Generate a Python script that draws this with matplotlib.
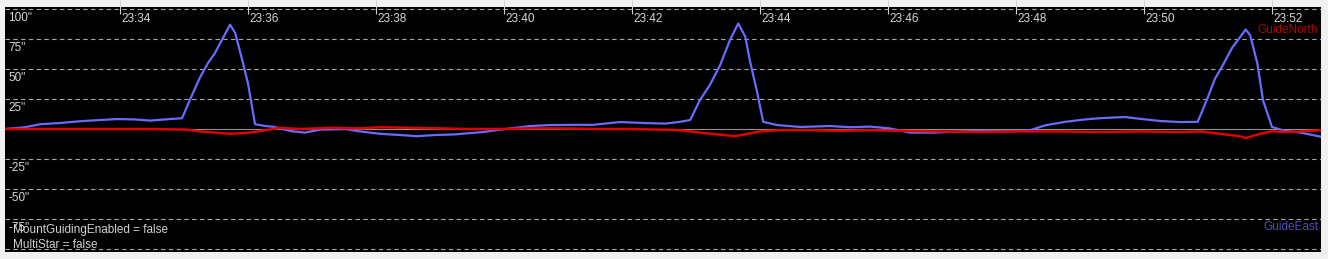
import matplotlib.pyplot as plt
import matplotlib.transforms as mtransforms

# === Donnees (minutes apres 23:00, valeurs en arcsec) ===
east_t = [32.20, 32.52, 32.75, 33.06, 33.38, 33.69, 33.95, 34.23, 34.47, 34.70,
          34.97, 35.09, 35.25, 35.375, 35.48, 35.59, 35.72, 35.80, 35.91, 36.00,
          36.11, 36.27, 36.42, 36.66, 36.89, 37.13, 37.52, 37.75, 38.06, 38.38,
          38.64, 38.92, 39.23, 39.67, 40.02, 40.41, 40.72, 41.11, 41.39, 41.81,
          42.20, 42.52, 42.75, 42.91, 43.06, 43.22, 43.375, 43.53, 43.66, 43.77,
          43.84, 43.95, 44.05, 44.27, 44.63, 45.09, 45.41, 45.72, 46.03, 46.34,
          46.73, 47.13, 47.52, 47.91, 48.22, 48.45, 48.77, 49.08, 49.31, 49.70,
          49.94, 50.25, 50.56, 50.84, 50.98, 51.11, 51.23, 51.375, 51.59, 51.66,
          51.77, 51.86, 52.00, 52.20, 52.44, 52.59, 52.77]
east_v = [0, 1.5, 4, 5, 6.5, 7.5, 8.3, 8, 7, 8,
          9, 24, 43, 55, 63, 74, 87, 80, 57.5, 38,
          4, 2.5, 1.7, -1.7, -3, -0.5, 0, -2, -4, -5,
          -6, -5, -4.5, -2.5, 0, 2.5, 3.3, 3.5, 3.5, 5.8,
          5, 4.5, 6, 7.5, 24, 37, 53, 74, 88, 77,
          57.5, 32, 6, 3.3, 1.7, 2.5, 1.5, 2, 0.5, -3,
          -3, -2, -1.5, -2, -1, 3, 6, 8, 9, 10,
          8.5, 6.7, 5.8, 6, 24, 42, 53, 67.5, 83, 78,
          55, 24, 1.7, -1.5, -3, -4.5, -6.5]

north_t = [32.20, 34.47, 35.02, 35.25, 35.72, 36.03, 36.27, 36.50, 36.81, 37.28,
           37.75, 38.06, 38.53, 39.00, 39.47, 39.94, 40.41, 40.88, 41.50, 41.97,
           42.44, 42.75, 43.06, 43.61, 44.00, 44.31, 44.78, 45.25, 45.72, 46.19,
           46.81, 47.44, 48.06, 48.69, 49.31, 49.94, 50.56, 50.88, 51.19, 51.50,
           51.59, 51.81, 52.00, 52.28, 52.59, 52.77]
north_v = [0, 0, -0.5, -2, -4, -3, -1, 1, 0, 1,
           0.5, 1.5, 1, 0.5, 0, 0, 0.5, 0.5, 0, 0,
           -0.5, -1, -3, -6, -2, -1, -1, -1.5, -1, -1.5,
           -2, -2.5, -2, -2, -2.5, -2, -2.5, -2, -4, -6,
           -7.5, -4, -2, -2.5, -1.5, -1]

x_ticks = [34, 36, 38, 40, 42, 44, 46, 48, 50, 52]
x_labels = ["23:34", "23:36", "23:38", "23:40", "23:42", "23:44", "23:46", "23:48", "23:50", "23:52"]
y_grid = [100, 75, 50, 25, -25, -50, -75, -100]
y_labels = ['100"', '75"', '50"', '25"', '-25"', '-50"', '-75"']

plt.rcParams['font.family'] = ['Liberation Sans', 'DejaVu Sans']

fig = plt.figure(figsize=(13.28, 2.59), dpi=100, facecolor="#f0f0f0")
ax = fig.add_axes([5 / 1328, 7 / 259, 1316 / 1328, 245 / 259])
ax.set_facecolor("black")
for s in ax.spines.values():
    s.set_visible(False)

ax.set_xlim(32.203, 52.766)
ax.set_ylim(-102.5, 101.7)

# grille horizontale
for g in y_grid:
    ax.axhline(g, color="#a8a8a8", lw=0.8, ls=(0, (4, 3)), zorder=1)
ax.axhline(0, color="#909090", lw=0.8, zorder=1)

# courbes
ax.plot(east_t, east_v, color="#6a6aff", lw=1.6, zorder=3)
ax.plot(north_t, north_v, color="#e00000", lw=1.8, zorder=4)

# axe du temps (en haut, a l'interieur)
ax.set_xticks(x_ticks)
ax.set_xticklabels([])
ax.set_yticks([])
ax.tick_params(axis="x", bottom=False, top=True, direction="inout", length=10,
               color="#d0d0d0", width=0.8)
trans_x = mtransforms.blended_transform_factory(ax.transData, ax.transAxes)
for t, lab in zip(x_ticks, x_labels):
    ax.text(t + 0.03, 0.975, lab, transform=trans_x, color="#d8d8d8",
            fontsize=8.5, va="top", ha="left")

# etiquettes de l'axe y
trans_y = mtransforms.blended_transform_factory(ax.transAxes, ax.transData)
for g, lab in zip(y_grid, y_labels):
    ax.text(0.0025, g - 2.5, lab, transform=trans_y, color="#d8d8d8",
            fontsize=8.5, va="top", ha="left")

# textes d'information
ax.text(0.006, -79, "MountGuidingEnabled = false", transform=trans_y,
        color="#d0d0d0", fontsize=8.5, va="top", ha="left")
ax.text(0.006, -91.5, "MultiStar = false", transform=trans_y,
        color="#d0d0d0", fontsize=8.5, va="top", ha="left")

# legendes
ax.text(0.998, 0.905, "GuideNorth", transform=ax.transAxes, color="#b80000",
        fontsize=8.5, va="center", ha="right")
ax.text(0.998, 0.1, "GuideEast", transform=ax.transAxes, color="#5050b8",
        fontsize=8.5, va="center", ha="right")

fig.savefig("out.png", dpi=100, facecolor=fig.get_facecolor())
